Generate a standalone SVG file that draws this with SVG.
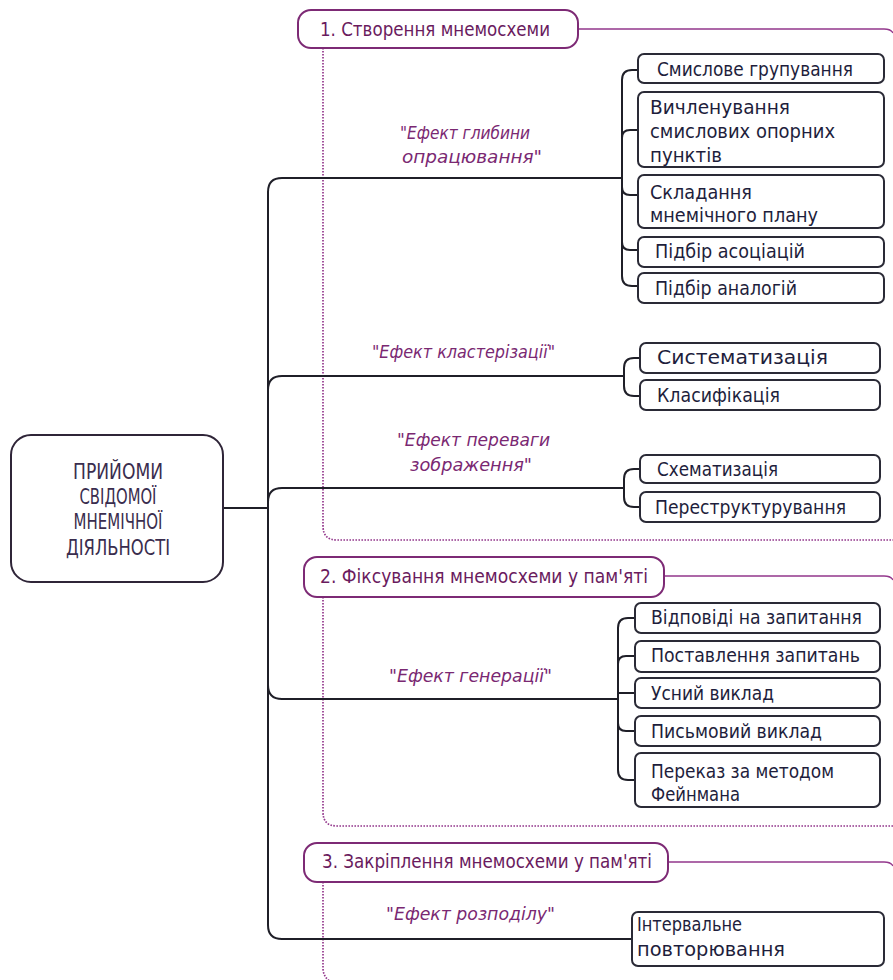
<svg xmlns="http://www.w3.org/2000/svg" width="893" height="980" viewBox="0 0 893 980">
<style>
.bg{fill:#ffffff}
.box{fill:#ffffff;stroke:#2a2a36;stroke-width:2}
.hdr{fill:#ffffff;stroke:#7d2a75;stroke-width:2}
.main{fill:#ffffff;stroke:#2f2538;stroke-width:2}
.ln{fill:none;stroke:#1f1f28;stroke-width:2}
.fr{fill:none;stroke:#93378c;stroke-width:1.4}
.dot{fill:none;stroke:#93378c;stroke-width:1.7;stroke-dasharray:1.6 1.4}
text{font-family:"Liberation Sans Narrow","DejaVu Sans Condensed","Roboto","Liberation Sans",sans-serif}
.t{font-size:19px;fill:#1e1e3c}
.h{font-size:19px;fill:#6a1b5e}
.m{font-size:22px;fill:#3a2d4e;text-anchor:middle}
.i{font-size:18px;font-style:italic;fill:#7a2872}
</style>
<rect class="bg" x="0" y="0" width="893" height="980"/>

<g id="frames">
<path class="fr" d="M578,29 H884 Q891,29 893,33"/>
<path class="dot" d="M323,48 V526 Q323,540 337,540 H893"/>
<path class="fr" d="M664,576 H884 Q891,576 893,580"/>
<path class="dot" d="M323,597 V812 Q323,826 337,826 H893"/>
<path class="fr" d="M668,862 H884 Q891,862 893,866"/>
<path class="dot" d="M323,882 V968 Q323,977 331,982"/>
</g>

<g id="connectors">
<path class="ln" d="M223,508 H268"/>
<path class="ln" d="M268,192 Q268,178 282,178 H622"/>
<path class="ln" d="M268,192 V925 Q268,939 282,939 H632"/>
<path class="ln" d="M268,390 Q268,376 282,376 H624"/>
<path class="ln" d="M268,502 Q268,488 282,488 H624"/>
<path class="ln" d="M268,685 Q268,699 282,699 H618"/>
<path class="ln" d="M638,70 H632 Q622,70 622,80 V276 Q622,286 632,286 H638"/>
<path class="ln" d="M622,138 Q622,130 630,130 H638"/>
<path class="ln" d="M622,187 Q622,195 630,195 H638"/>
<path class="ln" d="M622,242 Q622,250 630,250 H638"/>
<path class="ln" d="M640,358 H634 Q624,358 624,368 V386 Q624,396 634,396 H640"/>
<path class="ln" d="M640,469 H634 Q624,469 624,479 V497 Q624,507 634,507 H640"/>
<path class="ln" d="M635,618 H628 Q618,618 618,628 V770 Q618,780 628,780 H635"/>
<path class="ln" d="M618,664 Q618,656 626,656 H635"/>
<path class="ln" d="M618,693 H635"/>
<path class="ln" d="M618,723 Q618,731 626,731 H635"/>
</g>

<g id="root">
<rect class="main" x="11" y="435" width="212" height="147" rx="20"/>
<text class="m" x="118" y="479" textLength="90" lengthAdjust="spacingAndGlyphs">ПРИЙОМИ</text>
<text class="m" x="118" y="504" textLength="77" lengthAdjust="spacingAndGlyphs">СВІДОМОЇ</text>
<text class="m" x="118" y="529" textLength="89" lengthAdjust="spacingAndGlyphs">МНЕМІЧНОЇ</text>
<text class="m" x="118" y="555" textLength="104" lengthAdjust="spacingAndGlyphs">ДІЯЛЬНОСТІ</text>
</g>

<g id="stage1">
<rect class="hdr" x="298" y="10" width="280" height="38" rx="13"/>
<text class="h" x="320" y="36" textLength="230" lengthAdjust="spacingAndGlyphs">1. Створення мнемосхеми</text>
</g>
<g id="stage2">
<rect class="hdr" x="304" y="557" width="360" height="40" rx="13"/>
<text class="h" x="320" y="583" textLength="328" lengthAdjust="spacingAndGlyphs">2. Фіксування мнемосхеми у пам'яті</text>
</g>
<g id="stage3">
<rect class="hdr" x="304" y="843" width="364" height="39" rx="13"/>
<text class="h" x="322" y="868" textLength="330" lengthAdjust="spacingAndGlyphs">3. Закріплення мнемосхеми у пам'яті</text>
</g>

<g id="labels">
<text class="i" x="400" y="139" textLength="130" lengthAdjust="spacingAndGlyphs">"Ефект глибини</text>
<text class="i" x="402" y="163" textLength="140" lengthAdjust="spacingAndGlyphs">опрацювання"</text>
<text class="i" x="372" y="358" textLength="183" lengthAdjust="spacingAndGlyphs">"Ефект кластерізації"</text>
<text class="i" x="397" y="446" textLength="153" lengthAdjust="spacingAndGlyphs">"Ефект переваги</text>
<text class="i" x="410" y="471" textLength="122" lengthAdjust="spacingAndGlyphs">зображення"</text>
<text class="i" x="389" y="682" textLength="163" lengthAdjust="spacingAndGlyphs">"Ефект генерації"</text>
<text class="i" x="386" y="920" textLength="169" lengthAdjust="spacingAndGlyphs">"Ефект розподілу"</text>
</g>

<g id="n1"><rect class="box" x="638" y="54" width="246" height="29" rx="6"/><text class="t" x="657" y="76" textLength="196" lengthAdjust="spacingAndGlyphs">Смислове групування</text></g>
<g id="n2"><rect class="box" x="638" y="92" width="246" height="75" rx="6"/>
<text class="t" x="650" y="114" textLength="140" lengthAdjust="spacingAndGlyphs">Вичленування</text>
<text class="t" x="650" y="138" textLength="185" lengthAdjust="spacingAndGlyphs">смислових опорних</text>
<text class="t" x="650" y="162" textLength="72" lengthAdjust="spacingAndGlyphs">пунктів</text></g>
<g id="n3"><rect class="box" x="638" y="175" width="246" height="53" rx="6"/>
<text class="t" x="650" y="199" textLength="102" lengthAdjust="spacingAndGlyphs">Складання</text>
<text class="t" x="650" y="222" textLength="168" lengthAdjust="spacingAndGlyphs">мнемічного плану</text></g>
<g id="n4"><rect class="box" x="638" y="237" width="246" height="30" rx="6"/><text class="t" x="655" y="258" textLength="150" lengthAdjust="spacingAndGlyphs">Підбір асоціацій</text></g>
<g id="n5"><rect class="box" x="638" y="273" width="246" height="30" rx="6"/><text class="t" x="655" y="295" textLength="142" lengthAdjust="spacingAndGlyphs">Підбір аналогій</text></g>

<g id="n6"><rect class="box" x="640" y="343" width="240" height="30" rx="6"/><text class="t" x="657" y="364" textLength="171" lengthAdjust="spacingAndGlyphs">Систематизація</text></g>
<g id="n7"><rect class="box" x="640" y="380" width="240" height="30" rx="6"/><text class="t" x="657" y="402" textLength="123" lengthAdjust="spacingAndGlyphs">Класифікація</text></g>

<g id="n8"><rect class="box" x="640" y="455" width="240" height="28" rx="6"/><text class="t" x="657" y="476" textLength="121" lengthAdjust="spacingAndGlyphs">Схематизація</text></g>
<g id="n9"><rect class="box" x="640" y="492" width="240" height="30" rx="6"/><text class="t" x="655" y="514" textLength="191" lengthAdjust="spacingAndGlyphs">Переструктурування</text></g>

<g id="n10"><rect class="box" x="635" y="603" width="245" height="30" rx="6"/><text class="t" x="651" y="624" textLength="211" lengthAdjust="spacingAndGlyphs">Відповіді на запитання</text></g>
<g id="n11"><rect class="box" x="635" y="641" width="245" height="31" rx="6"/><text class="t" x="651" y="662" textLength="209" lengthAdjust="spacingAndGlyphs">Поставлення запитань</text></g>
<g id="n12"><rect class="box" x="635" y="678" width="245" height="30" rx="6"/><text class="t" x="651" y="700" textLength="123" lengthAdjust="spacingAndGlyphs">Усний виклад</text></g>
<g id="n13"><rect class="box" x="635" y="716" width="245" height="30" rx="6"/><text class="t" x="651" y="738" textLength="171" lengthAdjust="spacingAndGlyphs">Письмовий виклад</text></g>
<g id="n14"><rect class="box" x="635" y="753" width="245" height="54" rx="6"/>
<text class="t" x="651" y="778" textLength="183" lengthAdjust="spacingAndGlyphs">Переказ за методом</text>
<text class="t" x="651" y="801" textLength="89" lengthAdjust="spacingAndGlyphs">Фейнмана</text></g>

<g id="n15"><rect class="box" x="632" y="912" width="252" height="54" rx="6"/>
<text class="t" x="637" y="931" textLength="105" lengthAdjust="spacingAndGlyphs">Інтервальне</text>
<text class="t" x="637" y="956" textLength="148" lengthAdjust="spacingAndGlyphs">повторювання</text></g>
</svg>
